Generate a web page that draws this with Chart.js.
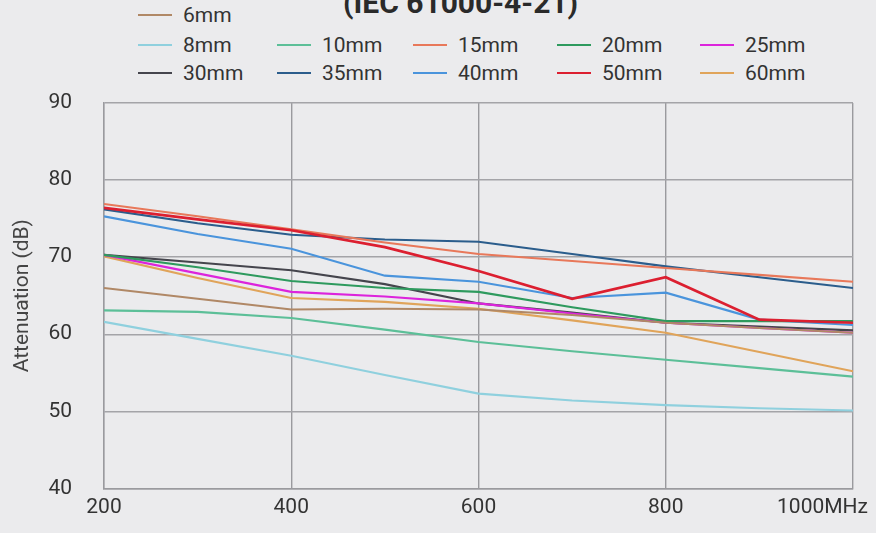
<!DOCTYPE html>
<html lang="en">
<head>
  <meta charset="UTF-8">
  <title>Attenuation (IEC 61000-4-21)</title>
  <script src="https://cdn.jsdelivr.net/npm/chart.js"></script>
  <style>
    body {
      margin: 0;
      background: #ebebed;
      font-family: 'Roboto', sans-serif;
      color: #333;
    }
    #wrap {
      position: relative;
      width: 876px;
      height: 533px;
      overflow: hidden;
    }
    #title {
      position: absolute;
      left: 343px;
      top: -15px;
      font-size: 30px;
      font-weight: bold;
      color: #2a2a2a;
      white-space: nowrap;
    }
    .item {
      position: absolute;
      display: flex;
      align-items: center;
      font-size: 21px;
      color: #333;
      height: 24px;
    }
    .item span.swatch {
      display: inline-block;
      width: 34px;
      height: 2px;
      margin-right: 11px;
    }
    canvas { position: absolute; left: 0; top: 0; }
  </style>
</head>
<body>
  <div id="wrap">
    <div id="title">(IEC 61000-4-21)</div>
    <div id="legend"></div>
    <canvas id="chart" width="876" height="533"></canvas>
  </div>

  <script>
    // frequencies (MHz) and attenuation (dB) per shielding thickness
    const freqs = [200, 300, 400, 500, 600, 700, 800, 900, 1000];
    const seriesNames = ['6mm', '8mm', '10mm', '15mm', '20mm', '25mm', '30mm', '35mm', '40mm', '50mm', '60mm'];

    const s6mm  = [66.0, 64.6, 63.2, 63.3, 63.2, 62.5, 61.5, 60.8, 60.2];
    const s8mm  = [61.6, 59.4, 57.2, 54.7, 52.3, 51.4, 50.8, 50.4, 50.1];
    const s10mm = [63.1, 62.9, 62.1, 60.6, 59.0, 57.8, 56.7, 55.6, 54.5];
    const s15mm = [76.9, 75.3, 73.6, 71.9, 70.4, 69.5, 68.6, 67.7, 66.8];
    const s20mm = [70.3, 68.7, 66.9, 66.0, 65.5, 63.5, 61.7, 61.7, 61.7];
    const s25mm = [70.3, 67.9, 65.5, 64.9, 64.0, 62.7, 61.5, 60.8, 60.2];
    const s30mm = [70.3, 69.3, 68.3, 66.5, 64.0, 62.8, 61.5, 61.0, 60.5];
    const s35mm = [76.2, 74.4, 72.9, 72.3, 72.0, 70.4, 68.8, 67.4, 66.0];
    const s40mm = [75.3, 73.0, 71.1, 67.6, 66.8, 64.7, 65.4, 61.9, 61.2];
    const s50mm = [76.4, 74.9, 73.5, 71.3, 68.2, 64.6, 67.4, 61.9, 61.5];
    const s60mm = [70.1, 67.3, 64.7, 64.2, 63.3, 61.8, 60.2, 57.7, 55.2];

    const xTickValues = [200, 400, 600, 800, 1000];
    const xTickLabels = ['200', '400', '600', '800', '1000MHz'];

    const seriesValues = [s6mm, s8mm, s10mm, s15mm, s20mm, s25mm, s30mm, s35mm, s40mm, s50mm, s60mm];
    const lineColors = ['#b08866', '#8fd0de', '#5cbf98', '#e8785a', '#2e9a5e', '#dc24dc',
                        '#45454d', '#2b5d8c', '#4a94dc', '#dc1f30', '#e0a45a'];

    const datasets = seriesNames.map((name, i) => ({
      label: name,
      data: freqs.map((f, j) => ({ x: f, y: seriesValues[i][j] })),
      borderColor: lineColors[i],
      backgroundColor: lineColors[i],
      borderWidth: name === '50mm' ? 2.6 : 2.1,
      pointRadius: 0,
      tension: 0,
      order: name === '50mm' ? -1 : i
    }));

    // legend: first entry alone on the top row, then rows of five
    const colX = [138, 277, 413, 557, 700];
    const rowY = [3, 33, 61];
    const legend = document.getElementById('legend');
    datasets.forEach((ds, i) => {
      const row = i === 0 ? 0 : 1 + Math.floor((i - 1) / 5);
      const col = i === 0 ? 0 : (i - 1) % 5;
      const el = document.createElement('div');
      el.className = 'item';
      el.style.left = colX[col] + 'px';
      el.style.top = rowY[row] + 'px';
      el.innerHTML = `<span class="swatch" style="background:${ds.borderColor}"></span>${ds.label}`;
      legend.appendChild(el);
    });

    const xLabels = {
      id: 'xLabels',
      afterDraw(chart) {
        const sc = chart.scales.x;
        const ctx = chart.ctx;
        ctx.save();
        ctx.font = '21px Roboto';
        ctx.fillStyle = '#333';
        ctx.textBaseline = 'middle';
        xTickValues.forEach((v, i) => {
          const px = sc.getPixelForValue(v);
          if (i === xTickValues.length - 1) {
            ctx.textAlign = 'right';
            ctx.fillText(xTickLabels[i], px + 15, sc.bottom - 15);
          } else {
            ctx.textAlign = 'center';
            ctx.fillText(xTickLabels[i], px, sc.bottom - 15);
          }
        });
        ctx.restore();
      }
    };

    new Chart(document.getElementById('chart'), {
      type: 'line',
      data: { datasets },
      options: {
        responsive: false,
        animation: false,
        layout: { padding: { top: 103, right: 23, left: 0, bottom: 0 } },
        plugins: { legend: { display: false }, tooltip: { enabled: false } },
        scales: {
          x: {
            type: 'linear',
            min: 200,
            max: 1000,
            ticks: { display: false, stepSize: 200 },
            grid: { color: '#9a9a9e', lineWidth: 1.4, drawTicks: false },
            border: { color: '#9a9a9e', width: 1.4 },
            afterFit: (scale) => { scale.height = 34; }
          },
          y: {
            min: 40,
            max: 90,
            ticks: { stepSize: 10, color: '#333', font: { family: 'Roboto', size: 21 }, padding: 32 },
            grid: { color: '#a4a4a8', lineWidth: 1.4, drawTicks: false },
            border: { color: '#9a9a9e', width: 1.4 },
            title: {
              display: true,
              text: 'Attenuation (dB)',
              color: '#444',
              font: { family: 'Roboto', size: 21 },
              padding: { top: 10, bottom: 0 }
            },
            afterFit: (scale) => { scale.width = 104; }
          }
        }
      },
      plugins: [xLabels]
    });
  </script>
</body>
</html>
